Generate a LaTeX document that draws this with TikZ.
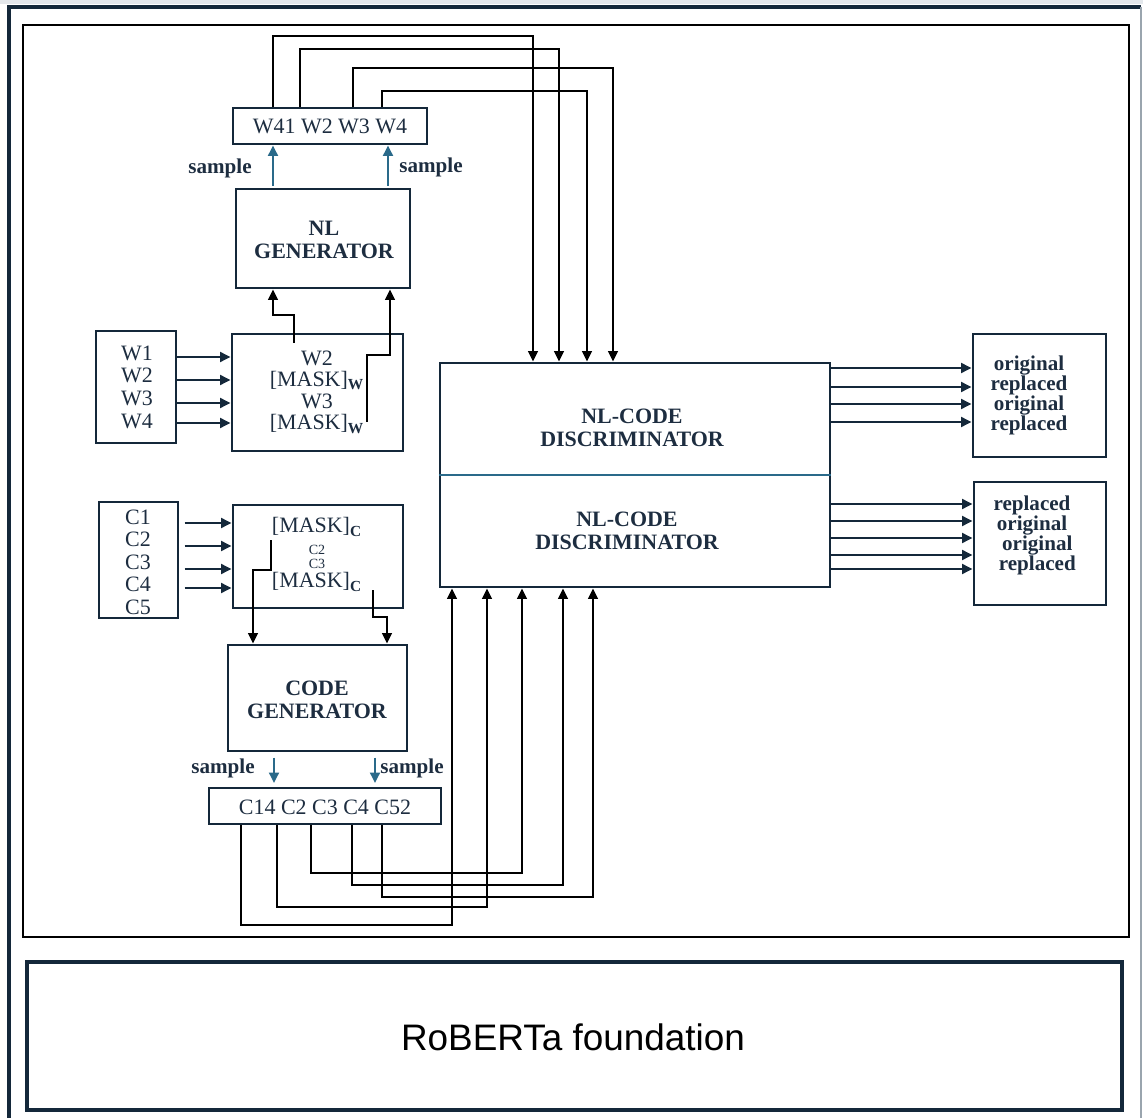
\documentclass[tikz,border=0pt]{standalone}
\usepackage{fontspec}
\setmainfont{Liberation Serif}
\newfontfamily\basefont{Liberation Sans}
\usetikzlibrary{arrows.meta,fit}
\setlength{\lineskiplimit}{-100pt}

\definecolor{navy}{HTML}{14283A}
\definecolor{ink}{HTML}{1D2D40}
\definecolor{sampleblue}{HTML}{2A6A8A}
\definecolor{frameline}{HTML}{9AA5AE}
\definecolor{haze}{HTML}{E3E7EB}

\begin{document}
\begin{tikzpicture}[x=0.02cm,y=-0.02cm,
  box/.style={draw=navy,line width=1.6pt,inner sep=0pt},
  lbl/.style={text=ink,inner sep=0pt,align=center,
    font=\fontsize{12.5}{12.5}\selectfont},
  blbl/.style={lbl,font=\fontsize{12.5}{12.5}\selectfont\bfseries},
  reslbl/.style={lbl,font=\fontsize{12}{11.4}\selectfont\bfseries},
  smp/.style={lbl,font=\fontsize{12}{12}\selectfont\bfseries},
  tip/.style={-{Triangle[length=6pt,width=5.5pt]}},
  conn/.style={tip,draw=black,line width=1.4pt},
  feed/.style={tip,draw=navy,line width=1.5pt},
  samplearrow/.style={tip,draw=sampleblue,line width=1.6pt}]

\useasboundingbox (0,0) rectangle (1143,1118);

% page frame
\fill[haze] (0,0) rectangle (1143,4);
\draw[navy,line width=2.2pt] (9,1118) -- (9,7) -- (1141,7);
\draw[frameline,line width=0.9pt] (1141,7) -- (1141,1118);

% inner panel and foundation block
\node[draw=black,line width=1.5pt,inner sep=0pt,fit={(23,25)(1129,937)}] (panel) {};
\node[draw=navy,line width=2.5pt,inner sep=0pt,fit={(27,962)(1122,1110)}] (base) {};
\node[text=black,font=\basefont\fontsize{21}{21}\selectfont] (basetxt) at (573,1037) {RoBERTa foundation};

% boxes
\node[box,fit={(96,331)(176,443)}] (win) {};
\node[box,fit={(232,334)(403,451)}] (wmask) {};
\node[box,fit={(236,189)(410,288)}] (nlgen) {};
\node[box,fit={(233,108)(427,144)}] (wout) {};
\node[box,fit={(99,502)(178,618)}] (cin) {};
\node[box,fit={(233,505)(403,608)}] (cmask) {};
\node[box,fit={(228,645)(407,751)}] (codegen) {};
\node[box,fit={(209,788)(441,824)}] (cout) {};
\node[box,fit={(440,363)(830,587)}] (disc) {};
\node[box,fit={(973,334)(1106,457)}] (res1) {};
\node[box,fit={(974,482)(1106,605)}] (res2) {};
\draw[sampleblue,line width=1.4pt] (disc.west |- 0,475) -- (disc.east |- 0,475);

% texts
\node[lbl] (wintxt) at (137,387) {W1\\[0.4pt]W2\\[0.4pt]W3\\[0.4pt]W4};
\node[lbl] (cintxt) at (138,562) {C1\\[0.3pt]C2\\[0.3pt]C3\\[0.3pt]C4\\[0.3pt]C5};
\node[lbl] (wmasktxt) at (317,392) {W2\\[-0.2pt][MASK]\textsubscript{\bfseries W}\\[-0.2pt]W3\\[-0.2pt][MASK]\textsubscript{\bfseries W}};
\node[lbl] (cm1) at (317,527) {[MASK]\textsubscript{\bfseries C}};
\node[lbl,font=\fontsize{8}{8}\selectfont] (cm2) at (317,550) {C2};
\node[lbl,font=\fontsize{8}{8}\selectfont] (cm3) at (317,564) {C3};
\node[lbl] (cm4) at (317,582) {[MASK]\textsubscript{\bfseries C}};
\node[blbl] (nlgentxt) at (324,240) {NL\\[0.5pt]GENERATOR};
\node[blbl] (codegentxt) at (317,700) {CODE\\[0.8pt]GENERATOR};
\node[lbl] (wouttxt) at (330,126) {W41 W2 W3 W4};
\node[lbl] (couttxt) at (325,807) {C14 C2 C3 C4 C52};
\node[blbl] (disctxt1) at (632,428) {NL-CODE\\[0.8pt]DISCRIMINATOR};
\node[blbl] (disctxt2) at (627,531) {NL-CODE\\[0.8pt]DISCRIMINATOR};
\node[reslbl] (res1txt) at (1029,395) {original\\replaced\\original\\replaced};
\node[reslbl] (res2txt) at (1032,535) {replaced\\original\\\hspace*{6pt}original\\\hspace*{6pt}replaced};
\node[smp] (s1) at (220,168) {sample};
\node[smp] (s2) at (431,167) {sample};
\node[smp] (s3) at (223,768) {sample};
\node[smp] (s4) at (412,768) {sample};

% inputs into the masking boxes
\foreach \y in {357,380,403,423}
  \draw[feed] (win.east |- 0,\y) -- (wmask.west |- 0,\y);
\foreach \y in {523,546,569,588}
  \draw[feed,shorten <=3pt] (cin.east |- 0,\y) -- (cmask.west |- 0,\y);

% masked tokens into the generators
\coordinate (wm1) at (294,343);
\coordinate (wm2) at (367,422);
\draw[conn] (wm1) |- (273,315) -- (nlgen.south -| 273,0);
\draw[conn] (wm2) |- (390,355) -- (nlgen.south -| 390,0);
\coordinate (cm1s) at (271,540);
\coordinate (cm2s) at (373,590);
\draw[conn] (cm1s) |- (253,570) -- (codegen.north -| 253,0);
\draw[conn] (cm2s) |- (387,617) -- (codegen.north -| 387,0);

% sampling
\draw[samplearrow,shorten <=1pt] (nlgen.north -| 273,0) -- (wout.south -| 273,0);
\draw[samplearrow,shorten <=1pt] (nlgen.north -| 388,0) -- (wout.south -| 388,0);
\draw[samplearrow,shorten <=3pt,shorten >=2pt] (codegen.south -| 274,0) -- (cout.north -| 274,0);
\draw[samplearrow,shorten <=3pt,shorten >=2pt] (codegen.south -| 375,0) -- (cout.north -| 375,0);

% generated words into the discriminator
\draw[conn] (wout.north -| 273,0) |- (533,36) -- (disc.north -| 533,0);
\draw[conn] (wout.north -| 300,0) |- (559,49) -- (disc.north -| 559,0);
\draw[conn] (wout.north -| 353,0) |- (613,68) -- (disc.north -| 613,0);
\draw[conn] (wout.north -| 382,0) |- (587,91) -- (disc.north -| 587,0);

% generated code into the discriminator
\draw[conn] (cout.south -| 241,0) |- (452,925) -- (disc.south -| 452,0);
\draw[conn] (cout.south -| 277,0) |- (487,907) -- (disc.south -| 487,0);
\draw[conn] (cout.south -| 311,0) |- (522,873) -- (disc.south -| 522,0);
\draw[conn] (cout.south -| 352,0) |- (563,885) -- (disc.south -| 563,0);
\draw[conn] (cout.south -| 382,0) |- (593,897) -- (disc.south -| 593,0);

% predictions
\foreach \y in {368,387,404,422}
  \draw[feed] (disc.east |- 0,\y) -- (res1.west |- 0,\y);
\foreach \y in {504,521,538,555,569}
  \draw[feed] (disc.east |- 0,\y) -- (res2.west |- 0,\y);
\end{tikzpicture}
\end{document}
